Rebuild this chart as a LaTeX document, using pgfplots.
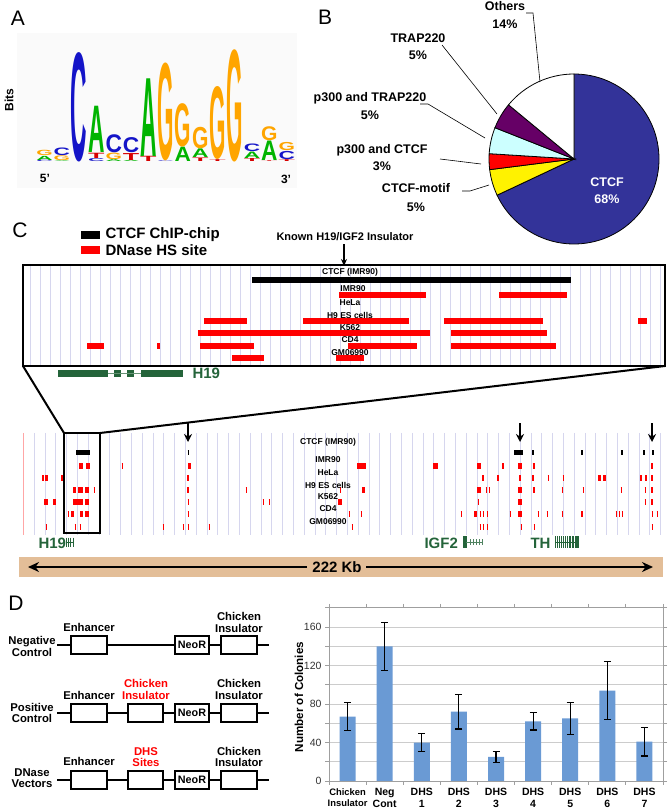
\documentclass[border=0pt]{standalone}
\usepackage{graphicx}
\usepackage{pgfplots}
\pgfplotsset{compat=1.18}
\usepackage{fontspec}
\setmainfont{Liberation Sans}
\usetikzlibrary{arrows.meta}

\definecolor{ctcfblue}{RGB}{51,51,153}
\definecolor{pcyan}{RGB}{204,255,255}
\definecolor{ppurple}{RGB}{102,0,102}
\definecolor{gridlav}{RGB}{214,214,238}
\definecolor{genegreen}{RGB}{36,100,58}
\definecolor{tanbar}{RGB}{227,190,152}
\definecolor{barblue}{RGB}{106,154,212}
\definecolor{logoC}{RGB}{20,20,200}
\definecolor{logoA}{RGB}{0,180,0}
\definecolor{logoG}{RGB}{255,165,0}
\definecolor{logoT}{RGB}{215,0,0}

\newcommand{\fs}[1]{\fontsize{#1bp}{#1bp}\selectfont}
\newcommand{\LL}[5]{\node[anchor=south west,inner sep=0pt,outer sep=0pt,text=#5] at (axis cs:{36.3+(#1-1)*17.3},{#3+0.004}) {\resizebox{16.4bp}{\dimexpr #4bp*57-0.45bp\relax}{\bfseries #2}};}

\begin{document}
\begin{tikzpicture}
%================ LOGO (panel A) =================
\begin{axis}[at={(36bp,644.15bp)},anchor=south west,width=264bp,height=122.55bp,scale only axis,
  xmin=36,xmax=300,ymin=-0.05,ymax=2.1,
  axis x line=none, axis y line=left, axis line style={-,line width=0.8bp},
  ytick={0,1,2}, yticklabels={0,1,2}, yticklabel style={font=\bfseries\fs{12}},
  tick align=outside, major tick length=3bp, tick style={line width=0.8bp,black},
  clip=false]
\fill[black!2] (axis cs:17,-0.456) rectangle (axis cs:297,2.26);
\LL{1}{C}{0}{0.03}{logoC} \LL{1}{A}{0.03}{0.08}{logoA} \LL{1}{G}{0.11}{0.1}{logoG}
\LL{2}{A}{0}{0.02}{logoA} \LL{2}{G}{0.02}{0.09}{logoG} \LL{2}{C}{0.11}{0.14}{logoC}
\LL{3}{C}{0}{1.9}{logoC}
\LL{4}{C}{0}{0.06}{logoC} \LL{4}{T}{0.06}{0.1}{logoT} \LL{4}{A}{0.16}{0.82}{logoA}
\LL{5}{A}{0}{0.04}{logoA} \LL{5}{G}{0.04}{0.12}{logoG} \LL{5}{C}{0.16}{0.32}{logoC}
\LL{6}{A}{0}{0.03}{logoA} \LL{6}{T}{0.03}{0.13}{logoT} \LL{6}{C}{0.16}{0.27}{logoC}
\LL{7}{T}{0}{0.1}{logoT} \LL{7}{A}{0.1}{1.37}{logoA}
\LL{8}{C}{0}{0.02}{logoC} \LL{8}{G}{0.02}{1.7}{logoG}
\LL{9}{A}{0}{0.26}{logoA} \LL{9}{G}{0.26}{0.76}{logoG}
\LL{10}{T}{0}{0.07}{logoT} \LL{10}{A}{0.07}{0.16}{logoA} \LL{10}{G}{0.23}{0.38}{logoG}
\LL{11}{T}{0}{0.04}{logoT} \LL{11}{G}{0.04}{1.27}{logoG}
\LL{12}{G}{0}{1.95}{logoG}
\LL{13}{T}{0}{0.06}{logoT} \LL{13}{A}{0.06}{0.12}{logoA} \LL{13}{C}{0.18}{0.14}{logoC}
\LL{14}{T}{0}{0.02}{logoT} \LL{14}{A}{0.02}{0.35}{logoA} \LL{14}{G}{0.37}{0.25}{logoG}
\LL{15}{T}{0}{0.04}{logoT} \LL{15}{C}{0.04}{0.15}{logoC} \LL{15}{G}{0.19}{0.15}{logoG}
\end{axis}

%================ UPPER ZOOM BOX (panel C) =================
\begin{axis}[at={(23bp,443bp)},anchor=south west,width=642bp,height=101bp,scale only axis,
  xmin=23,xmax=665,ymin=265,ymax=366,y dir=reverse,
  axis line style={line width=2.5bp},
  xtick={30,40,...,660}, xticklabels={}, ytick=\empty, major tick length=0pt,
  xmajorgrids, major grid style={gridlav,line width=0.6bp}, clip=true]
\addplot[black,line width=6bp,unbounded coords=jump] coordinates {(252,280)(571,280)};
\addplot[red,line width=5.5bp,unbounded coords=jump] coordinates {(339,295)(426,295) (nan,nan) (499,295)(567,295)};
\addplot[red,line width=5.5bp,unbounded coords=jump] coordinates {(204,321)(247,321) (nan,nan) (303,321)(409,321) (nan,nan) (444,321)(543,321) (nan,nan) (638,321)(647,321)};
\addplot[red,line width=5.5bp,unbounded coords=jump] coordinates {(198,333)(430,333) (nan,nan) (451,333)(547,333)};
\addplot[red,line width=5.5bp,unbounded coords=jump] coordinates {(87,346)(104,346) (nan,nan) (157,346)(160,346) (nan,nan) (200,346)(254,346) (nan,nan) (348,346)(417,346) (nan,nan) (451,346)(556,346)};
\addplot[red,line width=5.5bp,unbounded coords=jump] coordinates {(232,358)(264,358) (nan,nan) (336,358)(364,358)};
\end{axis}

%================ LOWER TRACKS (panel C) =================
\begin{axis}[at={(23bp,274bp)},anchor=south west,width=642bp,height=102bp,scale only axis,
  xmin=23,xmax=665,ymin=433,ymax=535,y dir=reverse,
  axis line style={draw=none},
  xtick={34,44.8,...,660}, xticklabels={}, ytick=\empty, major tick length=0pt,
  xmajorgrids, major grid style={gridlav,line width=0.6bp}, clip=true]
\addplot[red!35,line width=0.8bp] coordinates {(23.6,433)(23.6,535)};
% CTCF (IMR90)
\addplot[black,line width=5bp,unbounded coords=jump] coordinates {(76,453)(90,453) (nan,nan) (187.5,453)(189,453) (nan,nan) (514,453)(523,453) (nan,nan) (532,453)(534,453) (nan,nan) (581,453)(583,453) (nan,nan) (621,453)(623,453) (nan,nan) (643,453)(645,453) (nan,nan) (652,453)(654,453)};
% IMR90
\addplot[red,line width=6bp,unbounded coords=jump] coordinates {(79,466)(83,466) (nan,nan) (86,466)(90,466) (nan,nan) (121.5,466)(123,466) (nan,nan) (188,466)(191,466) (nan,nan) (357,466)(366,466) (nan,nan) (433,466)(438,466) (nan,nan) (477,466)(481,466) (nan,nan) (502,466)(504,466) (nan,nan) (518,466)(522,466) (nan,nan) (532.5,466)(534.5,466) (nan,nan) (651,466)(653,466)};
% HeLa
\addplot[red,line width=6bp,unbounded coords=jump] coordinates {(42,478)(44,478) (nan,nan) (45,478)(48,478) (nan,nan) (61,478)(63,478) (nan,nan) (187,478)(189,478) (nan,nan) (482,478)(484,478) (nan,nan) (497,478)(499,478) (nan,nan) (519,478)(521,478) (nan,nan) (532,478)(534,478) (nan,nan) (547.5,478)(549,478) (nan,nan) (562.5,478)(564,478) (nan,nan) (598,478)(601,478) (nan,nan) (603,478)(606,478) (nan,nan) (640,478)(642,478) (nan,nan) (645,478)(647,478) (nan,nan) (651,478)(653,478)};
% H9 ES cells
\addplot[red,line width=6bp,unbounded coords=jump] coordinates {(73,490)(76,490) (nan,nan) (78,490)(83,490) (nan,nan) (85,490)(89,490) (nan,nan) (93.5,490)(95,490) (nan,nan) (187,490)(189,490) (nan,nan) (245.5,490)(247,490) (nan,nan) (339.5,490)(341,490) (nan,nan) (362,490)(365,490) (nan,nan) (477,490)(481,490) (nan,nan) (485.5,490)(487,490) (nan,nan) (488.5,490)(490,490) (nan,nan) (518,490)(522,490) (nan,nan) (533,490)(535,490) (nan,nan) (561.5,490)(563,490) (nan,nan) (582.5,490)(584,490) (nan,nan) (620.5,490)(622,490) (nan,nan) (644.5,490)(646,490) (nan,nan) (651,490)(653,490)};
% K562
\addplot[red,line width=6bp,unbounded coords=jump] coordinates {(44,502)(48,502) (nan,nan) (53,502)(56,502) (nan,nan) (73,502)(83,502) (nan,nan) (85,502)(89,502) (nan,nan) (187.5,502)(189,502) (nan,nan) (262.5,502)(264,502) (nan,nan) (268.5,502)(270,502) (nan,nan) (338,502)(342,502) (nan,nan) (477.5,502)(479,502) (nan,nan) (518,502)(522,502) (nan,nan) (644.5,502)(646,502) (nan,nan) (651,502)(653,502)};
% CD4
\addplot[red,line width=6bp,unbounded coords=jump] coordinates {(67.5,514)(69,514) (nan,nan) (71,514)(74,514) (nan,nan) (80,514)(83,514) (nan,nan) (85,514)(89,514) (nan,nan) (187.5,514)(189,514) (nan,nan) (348.5,514)(350,514) (nan,nan) (360.5,514)(362,514) (nan,nan) (460.5,514)(462,514) (nan,nan) (474,514)(477,514) (nan,nan) (479.5,514)(481,514) (nan,nan) (482.5,514)(484,514) (nan,nan) (486.5,514)(488,514) (nan,nan) (509.5,514)(511,514) (nan,nan) (518,514)(522,514) (nan,nan) (537.5,514)(539,514) (nan,nan) (546.5,514)(548,514) (nan,nan) (561.5,514)(563,514) (nan,nan) (581,514)(583,514) (nan,nan) (615.5,514)(617,514) (nan,nan) (618.5,514)(620,514) (nan,nan) (621.5,514)(623,514) (nan,nan) (651.5,514)(653,514) (nan,nan) (656.5,514)(658,514)};
% GM06990
\addplot[red,line width=6bp,unbounded coords=jump] coordinates {(45.5,527)(47,527) (nan,nan) (74.5,527)(76,527) (nan,nan) (79.5,527)(81,527) (nan,nan) (162.5,527)(164,527) (nan,nan) (182.5,527)(184,527) (nan,nan) (187.5,527)(189,527) (nan,nan) (208.5,527)(210,527) (nan,nan) (351.5,527)(353,527) (nan,nan) (479.5,527)(481,527) (nan,nan) (482.5,527)(484,527) (nan,nan) (486.5,527)(488,527) (nan,nan) (520.5,527)(522,527) (nan,nan) (533.5,527)(535,527) (nan,nan) (651.5,527)(653,527)};
\end{axis}

%================ BAR CHART (panel D) =================
\begin{axis}[at={(329bp,28bp)},anchor=south west,width=334bp,height=173.25bp,scale only axis,
  xmin=-0.5,xmax=8.5,ymin=0,ymax=180,
  axis line style={gray!75,line width=0.8bp},
  ytick={0,20,...,180}, yticklabels={0,,40,,80,,120,,160,},
  yticklabel style={font=\fs{10.5},text=black!80},
  ymajorgrids, major grid style={gray!40,line width=0.6bp},
  xtick={0,...,8},
  xticklabels={{\fs{9.4}Chicken\\[-1bp]\fs{9.4}Insulator},{Neg\\Cont},{DHS\\1},{DHS\\2},{DHS\\3},{DHS\\4},{DHS\\5},{DHS\\6},{DHS\\7}},
  xticklabel style={font=\bfseries\fontsize{10.5bp}{12bp}\selectfont,align=center},
  major x tick style={draw=none},
  minor xtick={-0.5,0.5,...,8.5}, minor x tick style={gray!75,line width=0.8bp},
  minor tick length=4bp, major tick length=4bp, ytick style={gray!75,line width=0.8bp},
  tick align=outside]
\addplot[ybar,bar width=16bp,fill=barblue,draw=none,
  error bars/.cd, y dir=both, y explicit,
  error bar style={line width=1.1bp,black},
  error mark options={rotate=90,mark size=3.5bp,line width=1.1bp,black}]
coordinates {(0,67) +- (0,15) (1,140) +- (0,25) (2,40) +- (0,9) (3,72) +- (0,18) (4,25) +- (0,6) (5,62) +- (0,9) (6,65) +- (0,17) (7,94) +- (0,30) (8,41) +- (0,15)};
\end{axis}

%================ MASTER OVERLAY (pixel coordinates) =================
\begin{axis}[at={(0,0)},anchor=south west,width=669bp,height=809bp,scale only axis,
  xmin=0,xmax=669,ymin=0,ymax=809,y dir=reverse,hide axis,clip=false]
% panel letters
\node[font=\fs{21}] at (axis cs:18,18) {A};
\node[font=\fs{21}] at (axis cs:325,17) {B};
\node[font=\fs{21}] at (axis cs:20,230) {C};
\node[font=\fs{21}] at (axis cs:16,603) {D};
\node[rotate=90,font=\bfseries\fs{12}] at (axis cs:9,100) {Bits};
\node[font=\bfseries\fs{12}] at (axis cs:45,178) {5'};
\node[font=\bfseries\fs{12}] at (axis cs:286,179) {3'};

% ---- pie (B) : 68, 5, 3, 5, 5, 14 percent, clockwise from top
\begin{scope}[line width=0.8bp]
\filldraw[fill=ctcfblue] (axis cs:574,159) -- ++(90:85bp) arc[start angle=90,delta angle={-3.6*68},radius=85bp] -- cycle;
\filldraw[fill=yellow] (axis cs:574,159) -- ++(-154.8:85bp) arc[start angle=-154.8,delta angle={-3.6*5},radius=85bp] -- cycle;
\filldraw[fill=red] (axis cs:574,159) -- ++(-172.8:85bp) arc[start angle=-172.8,delta angle={-3.6*3},radius=85bp] -- cycle;
\filldraw[fill=pcyan] (axis cs:574,159) -- ++(-183.6:85bp) arc[start angle=-183.6,delta angle={-3.6*5},radius=85bp] -- cycle;
\filldraw[fill=ppurple] (axis cs:574,159) -- ++(-201.6:85bp) arc[start angle=-201.6,delta angle={-3.6*5},radius=85bp] -- cycle;
\filldraw[fill=white] (axis cs:574,159) -- ++(-219.6:85bp) arc[start angle=-219.6,delta angle={-3.6*14},radius=85bp] -- cycle;
\end{scope}
\node[align=center,font=\bfseries\fontsize{12.5bp}{17.5bp}\selectfont] at (axis cs:505,15) {Others\\14\%};
\node[align=center,font=\bfseries\fontsize{12.5bp}{17.5bp}\selectfont] at (axis cs:418,46.5) {TRAP220\\5\%};
\node[align=center,font=\bfseries\fontsize{12.5bp}{17.5bp}\selectfont] at (axis cs:370,106) {p300 and TRAP220\\5\%};
\node[align=center,font=\bfseries\fontsize{12.5bp}{17.5bp}\selectfont] at (axis cs:382,157.5) {p300 and CTCF\\3\%};
\node[align=center,font=\bfseries\fontsize{12.5bp}{19bp}\selectfont] at (axis cs:416,198) {CTCF-motif\\5\%};
\node[align=center,text=white,font=\bfseries\fontsize{12.5bp}{17bp}\selectfont] at (axis cs:607,190.5) {CTCF\\68\%};
\draw[line width=0.6bp] (axis cs:526,13) -- (axis cs:533,13) -- (axis cs:540,82);
\draw[line width=0.6bp] (axis cs:442,45) -- (axis cs:497,114);
\draw[line width=0.6bp] (axis cs:420,104) -- (axis cs:428,104) -- (axis cs:485,138);
\draw[line width=0.6bp] (axis cs:440,159) -- (axis cs:481,164);
\draw[line width=0.6bp] (axis cs:462,191) -- (axis cs:470,191) -- (axis cs:489,185);

% ---- legend (C)
\fill[black] (axis cs:81,231) rectangle (axis cs:100,239);
\node[anchor=west,font=\bfseries\fs{15}] at (axis cs:102,235) {CTCF ChIP-chip};
\fill[red] (axis cs:81,246) rectangle (axis cs:100,254);
\node[anchor=west,font=\bfseries\fs{15}] at (axis cs:102,250) {DNase HS site};
\node[font=\bfseries\fs{11}] at (axis cs:345,237) {Known H19/IGF2 Insulator};
\draw[-{Stealth[length=7bp,width=6bp]},line width=1.2bp] (axis cs:344,244) -- (axis cs:344,266);

% ---- upper box labels
\begin{scope}[font=\bfseries\fs{8.5}]
\node at (axis cs:350,272) {CTCF (IMR90)};
\node at (axis cs:353,289) {IMR90};
\node at (axis cs:350,303) {HeLa};
\node at (axis cs:350,315) {H9 ES cells};
\node at (axis cs:350,328) {K562};
\node at (axis cs:350,340) {CD4};
\node at (axis cs:350,353) {GM06990};
\end{scope}

% ---- H19 gene (zoomed)
\fill[genegreen] (axis cs:58,369.5) rectangle (axis cs:108,377);
\fill[genegreen] (axis cs:114,369.5) rectangle (axis cs:121,377);
\fill[genegreen] (axis cs:127,369.5) rectangle (axis cs:134,377);
\fill[genegreen] (axis cs:141,369.5) rectangle (axis cs:183,377);
\draw[genegreen!70,line width=0.8bp] (axis cs:108,373.3) -- (axis cs:141,373.3);
\node[anchor=west,text=genegreen,font=\bfseries\fs{15}] at (axis cs:189,373.5) {H19};

% ---- trapezoid and lower box
\draw[line width=2bp] (axis cs:23,366) -- (axis cs:64,433);
\draw[line width=2bp] (axis cs:665,366) -- (axis cs:100,433);
\draw[line width=2.5bp] (axis cs:64,433) rectangle (axis cs:100,533);

% ---- arrows on lower tracks
\pgfplotsinvokeforeach{188,520,652}{
  \draw[-{Stealth[length=8bp,width=8bp]},line width=1.6bp] (axis cs:#1,423) -- (axis cs:#1,442);
}
\begin{scope}[font=\bfseries\fs{8.5}]
\node at (axis cs:328,442) {CTCF (IMR90)};
\node at (axis cs:328,460) {IMR90};
\node at (axis cs:328,473) {HeLa};
\node at (axis cs:328,485) {H9 ES cells};
\node at (axis cs:328,497) {K562};
\node at (axis cs:328,509) {CD4};
\node at (axis cs:328,522) {GM06990};
\end{scope}

% ---- gene labels lower
\node[anchor=west,text=genegreen,font=\bfseries\fs{15}] at (axis cs:35,543) {H19};
\draw[genegreen,line width=0.8bp] (axis cs:66,542) -- (axis cs:74,542);
\pgfplotsinvokeforeach{66.5,68.5,70.5,73.5}{\draw[genegreen,line width=0.9bp] (axis cs:#1,537.5) -- (axis cs:#1,546.5);}
\node[anchor=west,text=genegreen,font=\bfseries\fs{15}] at (axis cs:421,543) {IGF2};
\fill[genegreen] (axis cs:463,536) rectangle (axis cs:466.5,548);
\draw[genegreen!80,line width=0.8bp] (axis cs:466,542) -- (axis cs:482,542);
\pgfplotsinvokeforeach{470,473,476,479,482}{\draw[genegreen!80,line width=0.8bp] (axis cs:#1,539) -- (axis cs:#1,545);}
\node[anchor=west,text=genegreen,font=\bfseries\fs{15}] at (axis cs:527,543) {TH};
\draw[genegreen,line width=0.8bp] (axis cs:555,542) -- (axis cs:578,542);
\pgfplotsinvokeforeach{555.5,557.5,559.5,561.5,563.5,565.5,567.5,570,573,576,578}{\draw[genegreen,line width=1.1bp] (axis cs:#1,536) -- (axis cs:#1,548);}

% ---- 222 Kb scale bar
\fill[tanbar] (axis cs:19,557) rectangle (axis cs:663,577);
\draw[-{Stealth[length=11bp,width=10bp]},line width=2.5bp] (axis cs:307,567) -- (axis cs:28,567);
\draw[-{Stealth[length=11bp,width=10bp]},line width=2.5bp] (axis cs:366,567) -- (axis cs:653,567);
\node[font=\bfseries\fs{15}] at (axis cs:337,567) {222 Kb};

% ---- panel D constructs
\begin{scope}[line width=2bp]
\draw (axis cs:57,645) -- (axis cs:269,645);
\draw[fill=white] (axis cs:71,636) rectangle (axis cs:107,654);
\draw[fill=white] (axis cs:175,636) rectangle (axis cs:209,654);
\draw[fill=white] (axis cs:221,636) rectangle (axis cs:257,654);
\draw (axis cs:57,713) -- (axis cs:269,713);
\draw[fill=white] (axis cs:71,704) rectangle (axis cs:107,722);
\draw[fill=white] (axis cs:128,704) rectangle (axis cs:163,722);
\draw[fill=white] (axis cs:175,704) rectangle (axis cs:209,722);
\draw[fill=white] (axis cs:221,704) rectangle (axis cs:257,722);
\draw (axis cs:57,779.5) -- (axis cs:269,779.5);
\draw[fill=white] (axis cs:71,770.5) rectangle (axis cs:107,788.5);
\draw[fill=white] (axis cs:128,770.5) rectangle (axis cs:163,788.5);
\draw[fill=white] (axis cs:175,770.5) rectangle (axis cs:209,788.5);
\draw[fill=white] (axis cs:221,770.5) rectangle (axis cs:257,788.5);
\end{scope}
\begin{scope}[font=\bfseries\fs{10.8}]
\node at (axis cs:192,645) {NeoR};
\node at (axis cs:192,713) {NeoR};
\node at (axis cs:192,779.5) {NeoR};
\end{scope}
\begin{scope}[align=center,font=\bfseries\fontsize{11.3bp}{11.3bp}\selectfont]
\node at (axis cs:32,646.5) {Negative\\Control};
\node at (axis cs:32,713) {Positive\\Control};
\node at (axis cs:32,778.5) {DNase\\Vectors};
\node at (axis cs:89,627) {Enhancer};
\node at (axis cs:89,695) {Enhancer};
\node at (axis cs:89,761.5) {Enhancer};
\node at (axis cs:239,622.5) {Chicken\\Insulator};
\node at (axis cs:239,689.5) {Chicken\\Insulator};
\node at (axis cs:239,757) {Chicken\\Insulator};
\node[text=red] at (axis cs:146,689.5) {Chicken\\Insulator};
\node[text=red] at (axis cs:146,757) {DHS\\Sites};
\end{scope}
\node[rotate=90,font=\bfseries\fs{11.6}] at (axis cs:299,697) {Number of Colonies};
\end{axis}
\pgfresetboundingbox
\path (0,0) rectangle (669bp,809bp);
\end{tikzpicture}
\end{document}
